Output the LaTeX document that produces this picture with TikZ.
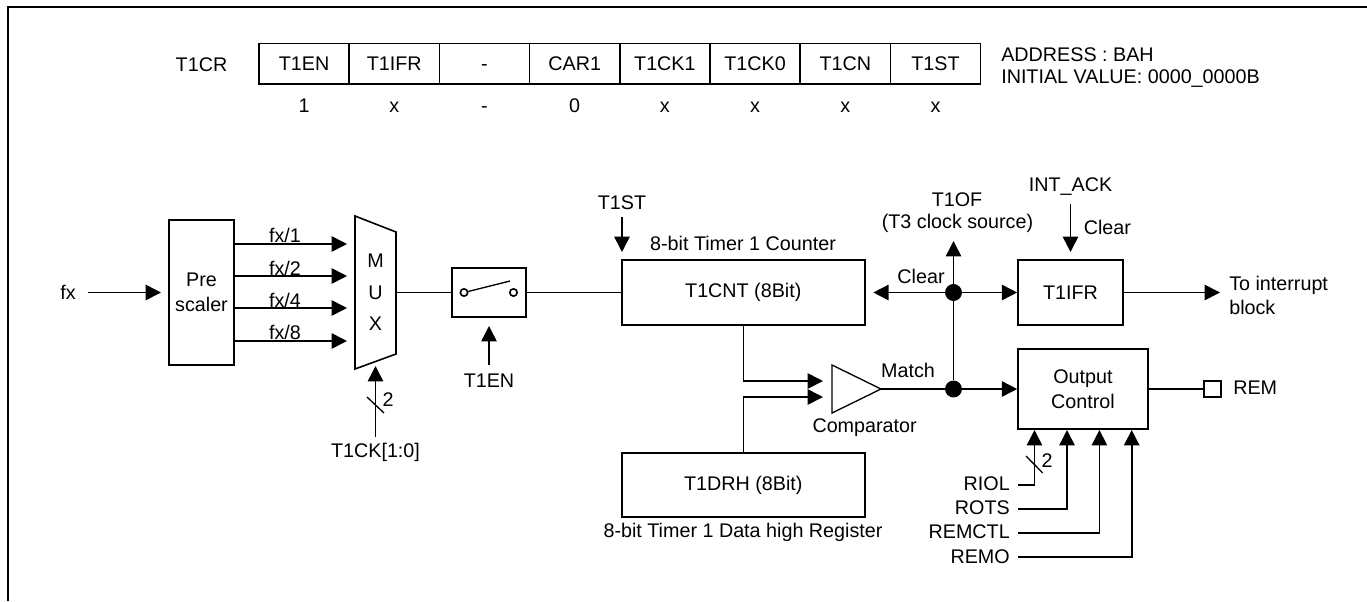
\documentclass[tikz,border=0pt]{standalone}
\usepackage{fontspec}
\setmainfont{Liberation Sans}
\usetikzlibrary{arrows.meta}
\tikzset{
  x=0.75pt,y=-0.75pt,
  lbl/.style={inner sep=0pt,font=\fontsize{14.8}{18}\selectfont,align=center},
  lblr/.style={lbl,anchor=east},
  lbll/.style={lbl,anchor=west,align=left},
  blockbox/.style={draw,line width=1.2pt,inner sep=0pt,font=\fontsize{14.8}{18.4}\selectfont,align=center},
  wire/.style={line width=1.2pt},
  arr/.style={wire,-{Triangle[length=11.5pt,width=11.5pt]}},
  junction/.style={circle,fill=black,inner sep=0pt,minimum size=12.7pt},
}
\newcommand{\blk}[6]{\node[blockbox,minimum width=#4*0.75pt,minimum height=#5*0.75pt] (#1) at (#2,#3) {#6};}
\begin{document}
\begin{tikzpicture}
\useasboundingbox (0,0) rectangle (1367,601);
\fill[white] (0,0) rectangle (1367,601);
% frame
\coordinate (fbl) at (7.5,601);
\coordinate (ftl) at (7.5,6.7);
\coordinate (ftr) at (1367,6.7);
\draw[line width=1.5pt] (fbl) -- (ftl) -- (ftr);
% register
\node[lbl] (t1cr) at (201.5,64.5) {T1CR};
\foreach \n/\t/\v [count=\i from 0] in {a/T1EN/1,b/T1IFR/x,c/-/-,d/CAR1/0,e/T1CK1/x,f/T1CK0/x,g/T1CN/x,h/T1ST/x}{
  \node[blockbox,minimum width=67.65pt,minimum height=30.5pt] (r\n) at ({259+90.2*\i+45.1},63.7) {\raisebox{-0.6pt}{\t\vphantom{T}}};
  \node[lbl] (v\n) at ({259+90.2*\i+45.1},106) {\v\vphantom{0}};
}
\node[lbll] (addr) at (1001,55) {ADDRESS : BAH};
\node[lbll] (init) at (1001,79) {INITIAL VALUE: 0000\_0000B};
% prescaler
\node[lbl] (fx) at (68,292.5) {fx};
\coordinate (fxs) at (88,292.5);
\blk{pre}{201.5}{292.5}{65}{145}{Pre\\scaler}
\draw[arr] (fxs) -- (161,292.5);
\coordinate (m1) at (347,244);\coordinate (m2) at (347,276);\coordinate (m3) at (347,308);\coordinate (m4) at (347,341);
\foreach \c in {m1,m2,m3,m4}{
  \draw[arr] (pre.east |- \c) -- (\c);
}
\node[lbl] (f1) at (285,235) {fx/1};
\node[lbl] (f2) at (285,268) {fx/2};
\node[lbl] (f4) at (285,300) {fx/4};
\node[lbl] (f8) at (285,332) {fx/8};
% mux
\draw[line width=1.2pt] (355,216) coordinate (mtl) -- (396,232) -- (396,354) -- (355,369) coordinate (mbl) -- cycle;
\node[lbl,font=\fontsize{14.8}{23.5}\selectfont] (mux) at (375.5,292.5) {M\\U\\X};
\coordinate (mr) at (396,292.5);
% switch
\blk{sw}{489}{292.5}{73.5}{49}{}
\draw[wire] (mr) -- (sw.west);
\node[circle,draw,line width=1.2pt,inner sep=0pt,minimum size=5.5pt] (c1) at (464,292.5) {};
\node[circle,draw,line width=1.2pt,inner sep=0pt,minimum size=5.5pt] (c2) at (513.5,292.5) {};
\coordinate (lev) at (510,281);
\draw[line width=1pt] (c1) -- (lev);
\node[lbl] (t1en) at (489,381) {T1EN};
\coordinate (t1ens) at (489,365);
\draw[arr] (t1ens) -- (489,326);
% t1ck
\node[lbl] (t1ck) at (375.5,452) {T1CK[1:0]};
\coordinate (cks) at (375.5,437);
\draw[arr] (cks) -- (375.5,366);
\coordinate (s1a) at (367,397);\coordinate (s1b) at (384,413);
\draw[line width=1pt] (s1a) -- (s1b);
\node[lbl] (two1) at (388,400) {2};
% counter
\blk{cnt}{743.3}{292.5}{243}{64.5}{T1CNT (8Bit)}
\blk{drh}{743.3}{485}{243}{64}{T1DRH (8Bit)}
\draw[wire] (sw.east) -- (cnt.west);
\node[lbl] (cntl) at (743,243) {8-bit Timer 1 Counter};
\node[lbl] (drhl) at (743,532) {8-bit Timer 1 Data high Register};
\node[lbl] (t1st) at (622,203) {T1ST};
\coordinate (sts) at (622,216.5);
\draw[arr] (sts) -- (622,252);
% comparator
\draw[line width=1pt] (832,365) coordinate (ct) -- (881,389) coordinate (ctip) -- (832,413) coordinate (cb) -- cycle;
\node[lbl] (comp) at (864.6,428) {Comparator};
\coordinate (ci1) at (823,381);\coordinate (ci2) at (823,397);
\draw[arr] (cnt.south) -- (743.3,381) -- (ci1);
\draw[arr] (drh.north) -- (743.3,397) -- (ci2);
% junctions
\node[junction] (j1) at (953.5,292.5) {};
\node[junction] (j2) at (953.5,389) {};
\draw[wire] (ctip) -- (j2);
\draw[wire] (j1) -- (j2);
\coordinate (of) at (953.5,241);
\draw[arr] (j1) -- (of);
\coordinate (clrt) at (873.3,292.5);
\draw[arr] (j1) -- (clrt);
\node[lbl] (t1of) at (957,200) {T1OF};
\node[lbl] (t3) at (957.5,223) {(T3 clock source)};
\node[lbl] (clr1) at (921,276) {Clear};
\node[lbl] (match) at (908,370) {Match};
% t1ifr
\blk{ifr}{1070.5}{292.5}{105}{64.5}{T1IFR}
\draw[arr] (j1) -- (ifr.west);
\node[lbl] (ack) at (1070.5,187) {INT\_ACK};
\coordinate (acks) at (1070.5,204);
\coordinate (ackt) at (1070.5,252);
\draw[arr] (acks) -- (ackt);
\node[lbll] (clr2) at (1083.5,227) {Clear};
\coordinate (toi) at (1220,292.5);
\draw[arr] (ifr.east) -- (toi);
\node[lbll] (toin) at (1229,295) {To interrupt\\block};
% output control
\blk{oc}{1083}{389}{130}{80.5}{Output\\Control}
\draw[arr] (j2) -- (oc.west);
\node[draw,line width=1.2pt,inner sep=0pt,minimum width=12.5pt,minimum height=12.3pt] (rembox) at (1212.5,389) {};
\draw[wire] (oc.east) -- (rembox.west);
\node[lbll] (rem) at (1233,388) {REM};
% inputs
\node[lblr] (riol) at (1010,484) {RIOL};
\node[lblr] (rots) at (1010,508) {ROTS};
\node[lblr] (remctl) at (1010,532) {REMCTL};
\node[lblr] (remo) at (1010,556.5) {REMO};
\coordinate (o1) at (1034.5,430);\coordinate (o2) at (1067,430);\coordinate (o3) at (1099.4,430);\coordinate (o4) at (1131.7,430);
\coordinate (i1) at (1018,485);\coordinate (i2) at (1018,509);\coordinate (i3) at (1018,533);\coordinate (i4) at (1018,557);
\draw[arr] (i1) -| (o1);
\draw[arr] (i2) -| (o2);
\draw[arr] (i3) -| (o3);
\draw[arr] (i4) -| (o4);
\coordinate (s2a) at (1026,456);\coordinate (s2b) at (1042.7,473);
\draw[line width=1pt] (s2a) -- (s2b);
\node[lbl] (two2) at (1047,461) {2};
\end{tikzpicture}
\end{document}
